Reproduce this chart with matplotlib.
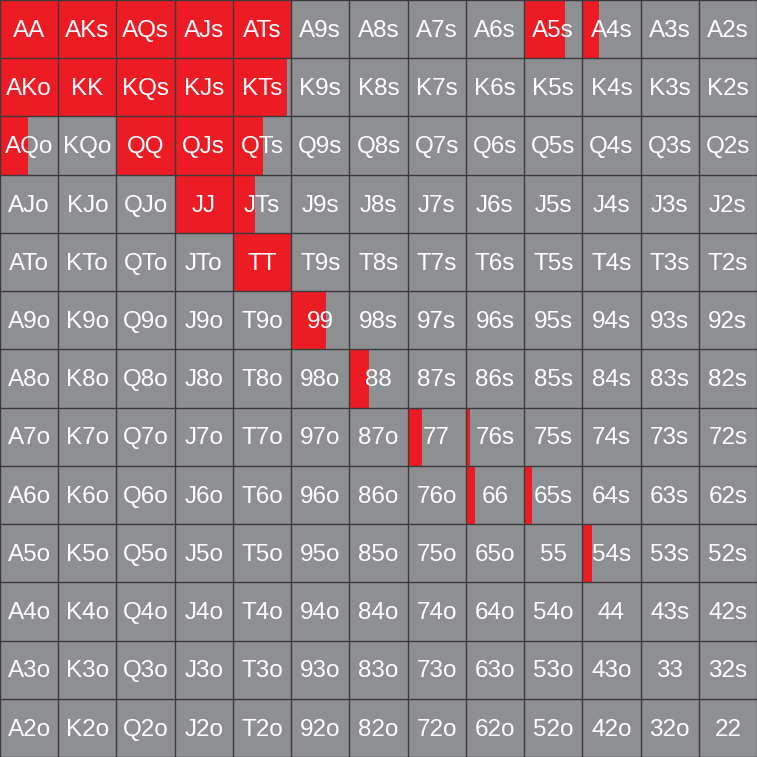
import matplotlib
matplotlib.use("Agg")
import matplotlib.pyplot as plt
from matplotlib.patches import Rectangle

RANKS = ["A", "K", "Q", "J", "T", "9", "8", "7", "6", "5", "4", "3", "2"]

# share of each cell shaded red (hands not listed are 0)
RED_HANDS = ["AA", "AKs", "AQs", "AJs", "ATs", "A5s", "A4s",
             "AKo", "KK", "KQs", "KJs", "KTs",
             "AQo", "QQ", "QJs", "QTs",
             "JJ", "JTs", "TT",
             "99", "88", "77", "76s", "66", "65s", "54s"]
RED_FREQ = [1.0, 1.0, 1.0, 1.0, 1.0, 0.70, 0.28,
            1.0, 1.0, 1.0, 1.0, 0.93,
            0.48, 1.0, 1.0, 0.52,
            1.0, 0.38, 1.0,
            0.59, 0.34, 0.24, 0.07, 0.15, 0.14, 0.17]

RED = "#ed1c24"
GREY = "#8d8f93"
LINE = "#3a3a3c"

freq = dict(zip(RED_HANDS, RED_FREQ))
n = len(RANKS)

fig = plt.figure(figsize=(7.57, 7.57), dpi=100)
ax = fig.add_axes([0, 0, 1, 1])
ax.set_xlim(0, n)
ax.set_ylim(n, 0)
ax.axis("off")

for r in range(n):
    for c in range(n):
        if r == c:
            hand = RANKS[r] * 2
        elif c > r:
            hand = RANKS[r] + RANKS[c] + "s"
        else:
            hand = RANKS[c] + RANKS[r] + "o"
        ax.add_patch(Rectangle((c, r), 1, 1, facecolor=GREY, edgecolor="none"))
        f = freq.get(hand, 0)
        if f > 0:
            ax.add_patch(Rectangle((c, r), f, 1, facecolor=RED, edgecolor="none"))
        ax.text(c + 0.5, r + 0.53, hand, ha="center", va="center",
                color="white", fontsize=17.5, family="Liberation Sans")

for i in range(n + 1):
    ax.plot([i, i], [0, n], color=LINE, lw=1.0)
    ax.plot([0, n], [i, i], color=LINE, lw=1.0)

fig.savefig("out.png", dpi=100)
